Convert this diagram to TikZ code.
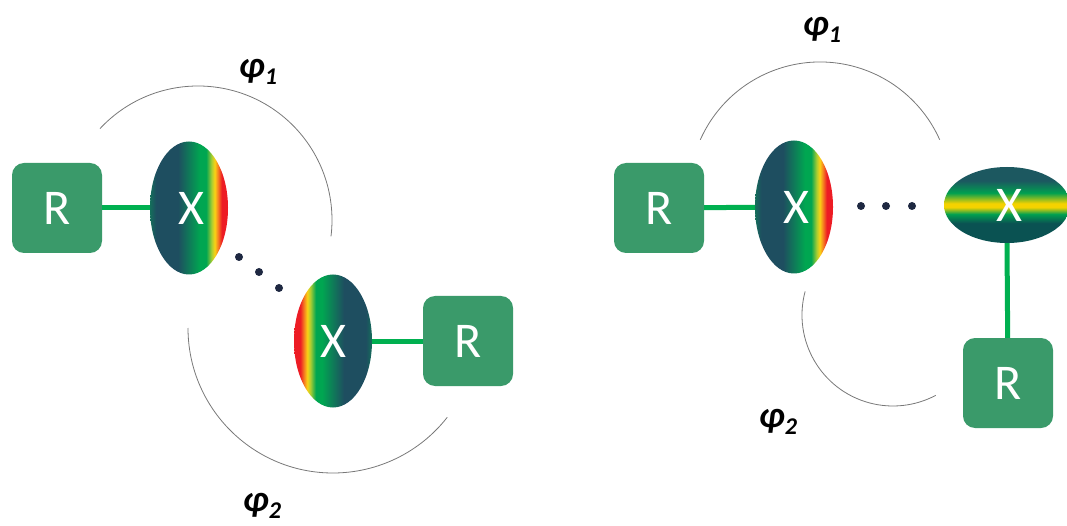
\documentclass[tikz,border=0pt]{standalone}
\usepackage{fontspec}
\setmainfont{Carlito}
\usetikzlibrary{shapes.geometric}
\definecolor{boxc}{RGB}{58,154,106}
\definecolor{linkc}{RGB}{0,176,80}
\definecolor{dotc}{RGB}{30,40,65}
\definecolor{arcc}{RGB}{120,120,120}
\definecolor{xdark}{RGB}{30,78,96}
\definecolor{xrim}{RGB}{20,110,90}
\definecolor{xgreen}{RGB}{0,166,81}
\definecolor{xyelgr}{RGB}{170,205,50}
\definecolor{xyellow}{RGB}{250,210,20}
\definecolor{xorange}{RGB}{245,130,32}
\definecolor{xred}{RGB}{237,28,36}
\definecolor{hdarktop}{RGB}{28,88,96}
\definecolor{hdarkbot}{RGB}{10,82,82}
\definecolor{hgreen}{RGB}{0,160,80}
\definecolor{hyellow}{RGB}{245,210,0}
\pgfdeclarehorizontalshading{xgrad}{100bp}{color(0bp)=(xrim); color(25bp)=(xrim); color(29bp)=(xdark); color(43bp)=(xdark); color(57bp)=(xgreen); color(61bp)=(xgreen); color(64.5bp)=(xyelgr); color(66.5bp)=(xyellow); color(68.5bp)=(xorange); color(71bp)=(xred); color(100bp)=(xred)}
\pgfdeclareverticalshading{hgrad}{100bp}{color(0bp)=(hdarkbot); color(38bp)=(hdarkbot); color(44bp)=(hgreen); color(48.5bp)=(hyellow); color(51bp)=(hyellow); color(58bp)=(hgreen); color(66bp)=(hdarktop); color(100bp)=(hdarktop)}
\begin{document}
\begin{tikzpicture}[x=1pt,y=1pt,
  rbox/.style={rectangle,rounded corners=12pt,fill=boxc,minimum width=90pt,minimum height=90pt,inner sep=0pt,text=white,font=\fontsize{50}{50}\selectfont},
  xvert/.style={ellipse,shading=xgrad,minimum width=78pt,minimum height=133pt,inner sep=0pt,text=white,font=\fontsize{50}{50}\selectfont},
  xhorz/.style={ellipse,shading=hgrad,minimum width=126pt,minimum height=76pt,inner sep=0pt,text=white,font=\fontsize{50}{50}\selectfont},
  link/.style={draw=linkc,line width=5pt},
  arcline/.style={draw=arcc,line width=0.8pt},
  philabel/.style={font=\fontsize{37}{37}\selectfont\bfseries\itshape}]
 \useasboundingbox (0,0) rectangle (1067,525);
 % left chain
 \node[rbox] (r1) at (57,317) {R};
 \node[xvert] (x1) at (189,317) {\hspace*{4pt}X};
 \node[xvert,shading angle=180] (x2) at (333,184) {X};
 \node[rbox] (r2) at (468,184) {R};
 \draw[link] (r1) -- (x1);
 \draw[link] (x2) -- (r2);
 \foreach \p in {(239,268),(259,253),(279,237)} \fill[dotc] \p circle (4);
 \draw[arcline] (198,305) ++(137:134) arc[start angle=137,end angle=-7,radius=134];
 \draw[arcline] (333,197) ++(180:145) arc[start angle=180,end angle=322,radius=145];
 \node[philabel] (p1) at (258,453) {φ\raisebox{-7pt}{\fontsize{24}{24}\selectfont 1}};
 \node[philabel] (p2) at (262,19) {φ\raisebox{-7pt}{\fontsize{24}{24}\selectfont 2}};
 % right chain
 \node[rbox] (r3) at (659,317) {R};
 \node[xvert] (x3) at (794,318) {\hspace*{4pt}X};
 \node[xhorz] (x4) at (1007,320) {\hspace*{4pt}X};
 \node[rbox] (r4) at (1008,142) {R};
 \draw[link] (r3) -- (x3);
 \draw[link] (x4.south) -- (r4);
 \foreach \p in {(861,319),(886,319),(912,319)} \fill[dotc] \p circle (4);
 \draw[arcline] (820,332) ++(156:131) arc[start angle=156,end angle=24,radius=131];
 \draw[arcline] (893,210) ++(165:91) arc[start angle=165,end angle=298,radius=91];
 \node[philabel] (p3) at (822,495) {φ\raisebox{-7pt}{\fontsize{24}{24}\selectfont 1}};
 \node[philabel] (p4) at (778,103) {φ\raisebox{-7pt}{\fontsize{24}{24}\selectfont 2}};
\end{tikzpicture}
\end{document}
